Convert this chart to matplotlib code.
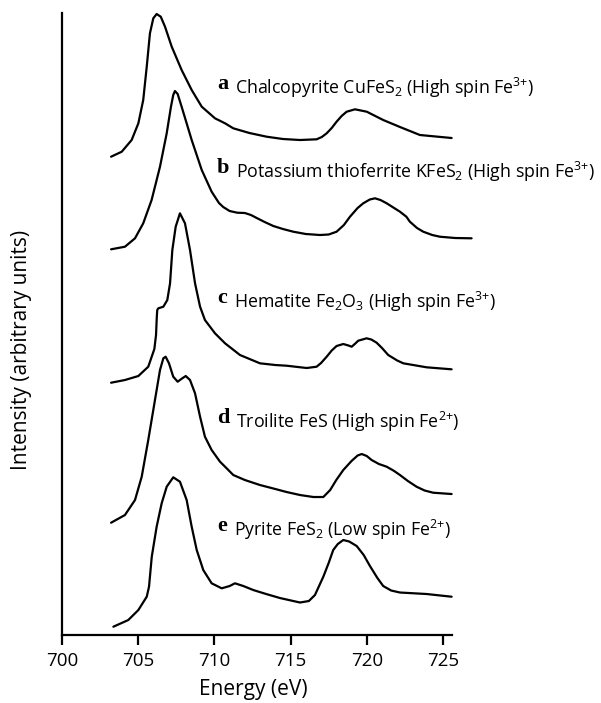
import matplotlib
matplotlib.use("Agg")
import matplotlib.pyplot as plt

plt.rcParams['font.family'] = ['Open Sans', 'DejaVu Sans']
plt.rcParams['mathtext.fontset'] = 'custom'
plt.rcParams['mathtext.rm'] = 'Open Sans'
plt.rcParams['mathtext.default'] = 'regular'

# Fe L-edge spectra (intensity in arbitrary units, stacked)
energy_a = [703.22, 703.92, 704.57, 705.01, 705.33, 705.56, 705.77, 705.99, 706.21, 706.48,
            706.76, 707.20, 707.85, 708.51, 709.17, 710.04, 710.70, 711.24, 712.3, 713.43,
            714.5, 715.62, 716.71, 717.05, 717.37, 717.7, 718.02, 718.35, 718.68, 719.23,
            720.0, 721.08, 722.18, 723.49, 725.57]
inten_a = [478.3, 483.3, 495, 511.7, 535, 568.3, 601.7, 616.7, 621, 618.3,
           608.3, 588.3, 565, 545, 528.3, 516.7, 511.7, 506.7, 502, 498.3,
           496, 495, 495.7, 498, 501.7, 507, 513.3, 519, 523.3, 525.7,
           523.3, 515, 508, 500, 497]

energy_b = [703.22, 704.13, 704.79, 705.33, 705.88, 706.43, 706.87, 707.15, 707.30, 707.41,
            707.59, 707.85, 708.51, 709.17, 709.82, 710.3, 710.58, 711.0, 711.5, 712.0,
            712.4, 712.78, 713.3, 713.87, 714.5, 715.18, 716.0, 716.93, 717.5, 718.02,
            718.5, 718.90, 719.4, 719.77, 720.2, 720.54, 720.9, 721.31, 722.18, 722.6,
            722.83, 723.3, 723.71, 724.3, 724.80, 725.8, 726.88]
inten_b = [385.7, 388.3, 396.7, 411.7, 435, 468.3, 501.7, 528.3, 540, 544,
           541, 528.3, 495, 465, 443.3, 432, 428, 424, 422.3, 422,
           420, 417, 413, 409, 406, 403.3, 401, 400, 400.5, 403.3,
           410, 418.3, 427, 431.7, 435.5, 436.7, 435, 431.7, 423.3, 418.3,
           413.3, 407, 403.3, 400, 398.3, 397, 396.7]

energy_c = [703.22, 704.13, 705.01, 705.66, 706.06, 706.17, 706.22, 706.25, 706.32, 706.65,
            706.91, 707.09, 707.24, 707.46, 707.74, 708.07, 708.40, 708.73, 709.06, 709.38,
            710.04, 710.70, 711.68, 712.99, 714.0, 714.74, 716.06, 716.71, 717.0, 717.37,
            717.7, 718.02, 718.46, 718.8, 719.01, 719.25, 719.44, 719.99, 720.3, 720.65,
            721.0, 721.41, 722.0, 722.40, 723.93, 725.57]
inten_c = [252.3, 255, 259, 268.3, 286, 300, 318, 325, 326.7, 328.3,
           335, 351.7, 385, 408.3, 421.7, 411.7, 385, 351.7, 328.3, 315,
           301.7, 291.7, 280, 271.7, 270, 269.3, 267, 268.3, 272, 278.3,
           284.5, 289, 291, 289.5, 288.3, 291.5, 294.3, 296.7, 295.5, 292.3,
           287, 280, 274.5, 271.7, 267.7, 265.7]

energy_d = [703.22, 704.13, 704.79, 705.23, 705.66, 706.10, 706.43, 706.65, 706.80, 707.02,
            707.30, 707.59, 707.89, 708.12, 708.40, 708.73, 709.06, 709.38, 709.82, 710.37,
            710.70, 711.24, 712.0, 712.99, 714.0, 714.74, 715.62, 716.5, 717.15, 717.6,
            718.0, 718.46, 719.0, 719.4, 719.67, 720.0, 720.32, 720.8, 721.31, 721.8,
            722.18, 722.7, 723.27, 723.8, 724.36, 725.57]
inten_d = [112.3, 120, 135, 158.3, 195, 235, 265, 276.7, 278.3, 271.7,
           258.3, 253.3, 256.7, 259, 255, 241.7, 218.3, 198.3, 185, 173.3,
           168.3, 160, 155, 150, 146, 143, 140, 138, 138, 145,
           155, 165, 174, 179.5, 181, 179, 175, 171, 168.3, 164,
           160, 154, 148.3, 144.5, 142.3, 141]

energy_e = [703.37, 704.35, 705.01, 705.56, 705.71, 705.89, 706.21, 706.54, 706.87, 707.30,
            707.74, 708.18, 708.51, 708.84, 709.27, 709.82, 710.48, 711.0, 711.35, 711.9,
            712.55, 713.4, 714.30, 715.62, 716.2, 716.6, 717.15, 717.5, 717.80, 718.1,
            718.46, 718.85, 719.34, 719.8, 720.21, 720.7, 721.08, 721.6, 722.18, 723.93,
            725.57]
inten_e = [8.3, 15, 25, 38.3, 48.3, 78.3, 108.3, 131.7, 148.3, 157.7,
           153.3, 135, 108.3, 85, 65, 51.7, 46.7, 49, 51.7, 49,
           45, 41, 37, 32.5, 34, 40, 58.3, 72, 85, 91,
           95, 93.5, 89, 80, 69, 57, 49, 44.5, 42.5, 41,
           38.3]

letters = ['a', 'b', 'c', 'd', 'e']
labels = [r'Chalcopyrite CuFeS$_2$ (High spin Fe$^{3{+}}$)',
          r'Potassium thioferrite KFeS$_2$ (High spin Fe$^{3{+}}$)',
          r'Hematite Fe$_2$O$_3$ (High spin Fe$^{3{+}}$)',
          r'Troilite FeS (High spin Fe$^{2{+}}$)',
          r'Pyrite FeS$_2$ (Low spin Fe$^{2{+}}$)']
label_y = [545.7, 461.7, 332, 212, 103.7]

fig = plt.figure(figsize=(6.01, 7.03), dpi=100)
ax = fig.add_axes([0.1032, 0.0967, 0.6490, 0.8848])

for en, it in [(energy_a, inten_a), (energy_b, inten_b), (energy_c, inten_c),
               (energy_d, inten_d), (energy_e, inten_e)]:
    ax.plot(en, it, color='black', lw=1.6, solid_joinstyle='round',
            solid_capstyle='round', clip_on=False)

for let, lab, y in zip(letters, labels, label_y):
    t = ax.text(710.17, y, let, fontsize=16, fontweight='bold',
                family='Liberation Serif', va='baseline', ha='left')
    ax.annotate(lab, xy=(1, 0), xycoords=t, xytext=(5, 0), textcoords='offset points',
                fontsize=12.8, va='baseline', ha='left', annotation_clip=False)

ax.set_xlim(700, 725.6)
ax.set_ylim(0, 622)
ax.set_xticks([700, 705, 710, 715, 720, 725])
ax.set_yticks([])
ax.spines['top'].set_visible(False)
ax.spines['right'].set_visible(False)
ax.spines['left'].set_linewidth(1.6)
ax.spines['bottom'].set_linewidth(1.6)
ax.tick_params(axis='x', direction='out', length=7, width=1.6, labelsize=13.5, pad=5)

fig.text(253 / 601, 1 - 690 / 703, 'Energy (eV)', fontsize=15, ha='center', va='center')
fig.text(22 / 601, 1 - 350 / 703, 'Intensity (arbitrary units)', fontsize=15,
         rotation=90, ha='center', va='center')

fig.savefig('out.png', dpi=100)
